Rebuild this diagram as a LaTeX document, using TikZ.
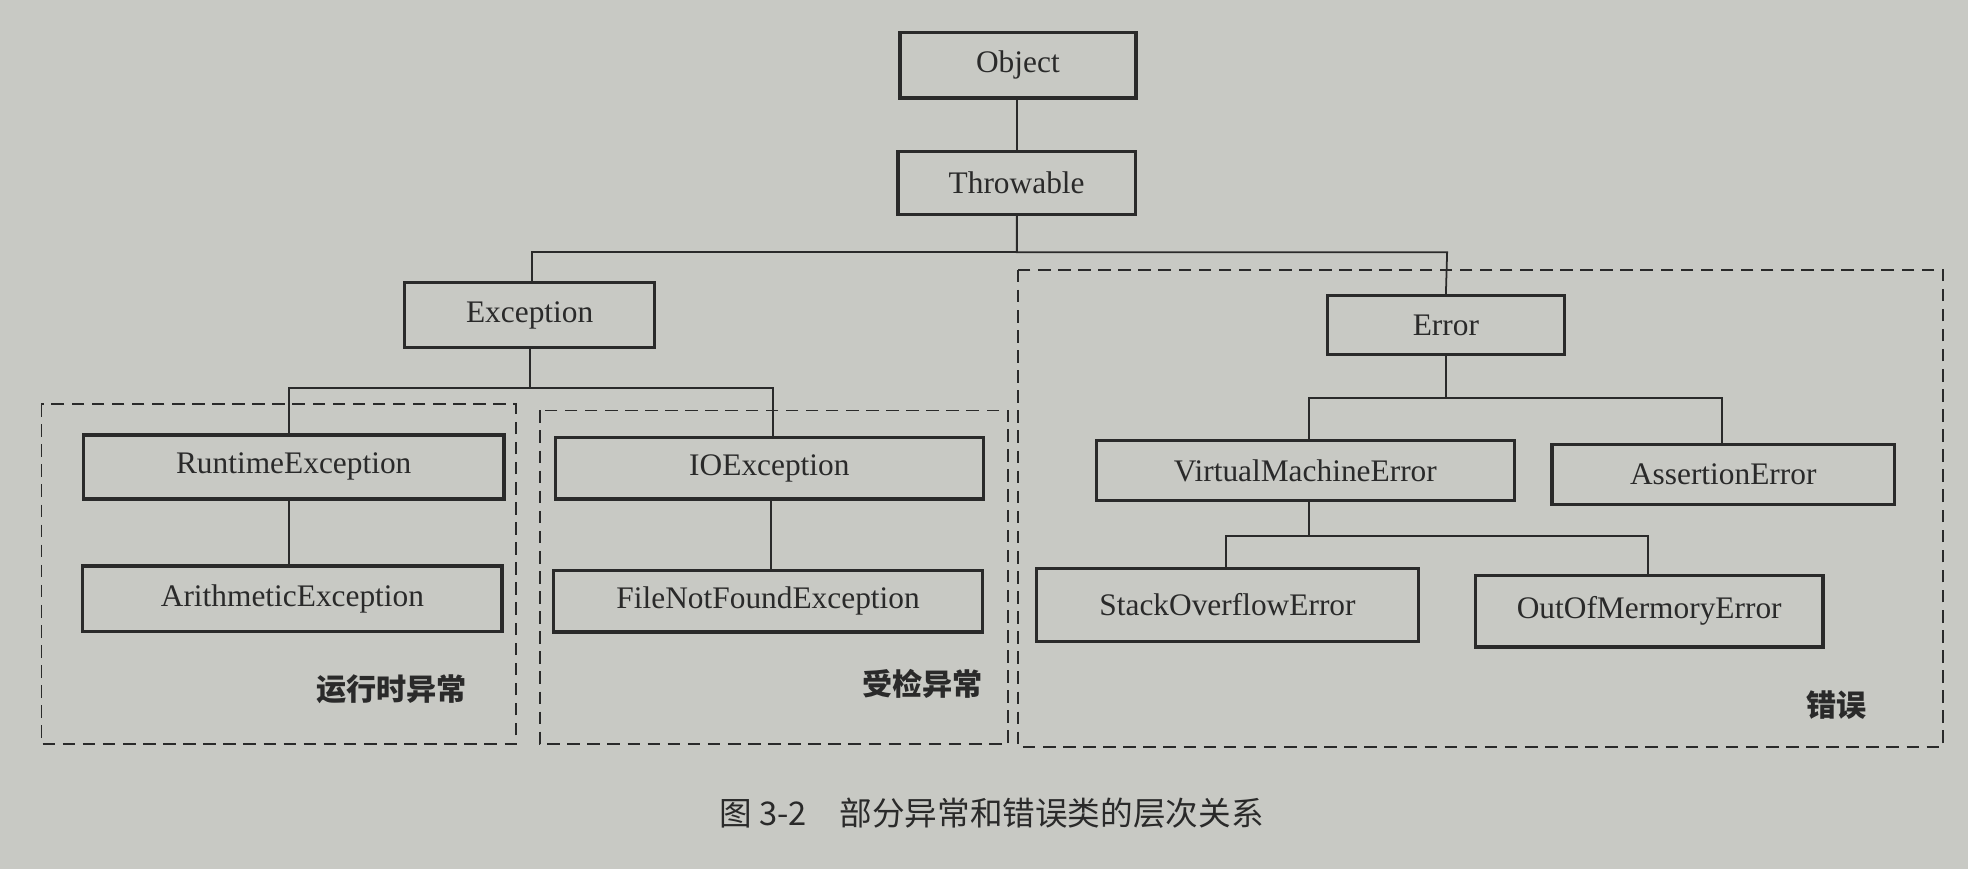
\documentclass[tikz,border=0pt]{standalone}
\usepackage{fontspec}
\setmainfont{Liberation Serif}
\newfontfamily\cjk{Noto Sans CJK SC}
\definecolor{paper}{HTML}{C8C9C4}
\definecolor{ink}{HTML}{2A2A2A}
\begin{document}
\begin{tikzpicture}[x=1pt,y=-1pt,
  cls/.style={draw=ink,line width=2.6pt,inner sep=0pt,font=\fontsize{25}{27}\selectfont,text=ink},
  link/.style={draw=ink,line width=1.4pt},
  region/.style={draw=ink,line width=1.4pt,dash pattern=on 10pt off 6pt},
  lab/.style={font=\cjk\bfseries\fontsize{24}{26}\selectfont,text=ink}]
\fill[paper] (0,0) rectangle (1568,692);
\useasboundingbox (0,0) rectangle (1568,692);
\node[cls,minimum width=188pt,minimum height=52pt] (obj) at (811,52) {Object};
\node[cls,minimum width=189pt,minimum height=50pt] (thr) at (810,146) {Throwable};
\node[cls,minimum width=199pt,minimum height=52pt] (exc) at (422,251) {Exception};
\node[cls,minimum width=189pt,minimum height=47pt] (err) at (1152,259) {Error};
\node[cls,minimum width=335pt,minimum height=51pt] (rte) at (234,372) {RuntimeException};
\node[cls,minimum width=334pt,minimum height=52pt] (ari) at (233,477) {ArithmeticException};
\node[cls,minimum width=341pt,minimum height=49pt] (ioe) at (613,373) {IOException};
\node[cls,minimum width=342pt,minimum height=49pt] (fnf) at (612,479) {FileNotFoundException};
\node[cls,minimum width=333pt,minimum height=48pt] (vme) at (1040,375) {VirtualMachineError};
\node[cls,minimum width=273pt,minimum height=48pt] (ass) at (1373,378) {AssertionError};
\node[cls,minimum width=304pt,minimum height=58pt] (soe) at (978,482) {StackOverflowError};
\node[cls,minimum width=277pt,minimum height=57pt] (oom) at (1314,487) {OutOfMermoryError};
\draw[link] (thr.north) -- (thr.north |- obj.south);
\draw[link] (thr.south) |- (424,201) coordinate (h1) -- (exc.north -| h1);
\draw[link] (thr.south) |- (1153,201) -- (err.north);
\draw[link] (exc.south) |- (230,309) -- (rte.north -| 230,0);
\draw[link] (exc.south) |- (616,309) -- (ioe.north -| 616,0);
\draw[link] (rte.south -| 230,0) -- (ari.north -| 230,0);
\draw[link] (ioe.south -| 614,0) -- (fnf.north -| 614,0);
\draw[link] (err.south) |- (1043,317) -- (vme.north -| 1043,0);
\draw[link] (err.south) |- (1372,317) -- (ass.north -| 1372,0);
\draw[link] (vme.south -| 1043,0) |- (977,427) -- (soe.north -| 977,0);
\draw[link] (vme.south -| 1043,0) |- (1313,427) -- (oom.north -| 1313,0);
\draw[region] (33,322) rectangle (411,593);
\draw[region] (430,327) rectangle (803,593);
\draw[region] (811,215) rectangle (1548,595);
\node[lab] (l1) at (312,549) {运行时异常};
\node[lab] (l2) at (735,545) {受检异常};
\node[lab] (l3) at (1463,562) {错误};
\node[font=\cjk\fontsize{26}{28}\selectfont,text=ink] (cap) at (790,648) {图 3-2\quad 部分异常和错误类的层次关系};
\end{tikzpicture}
\end{document}
